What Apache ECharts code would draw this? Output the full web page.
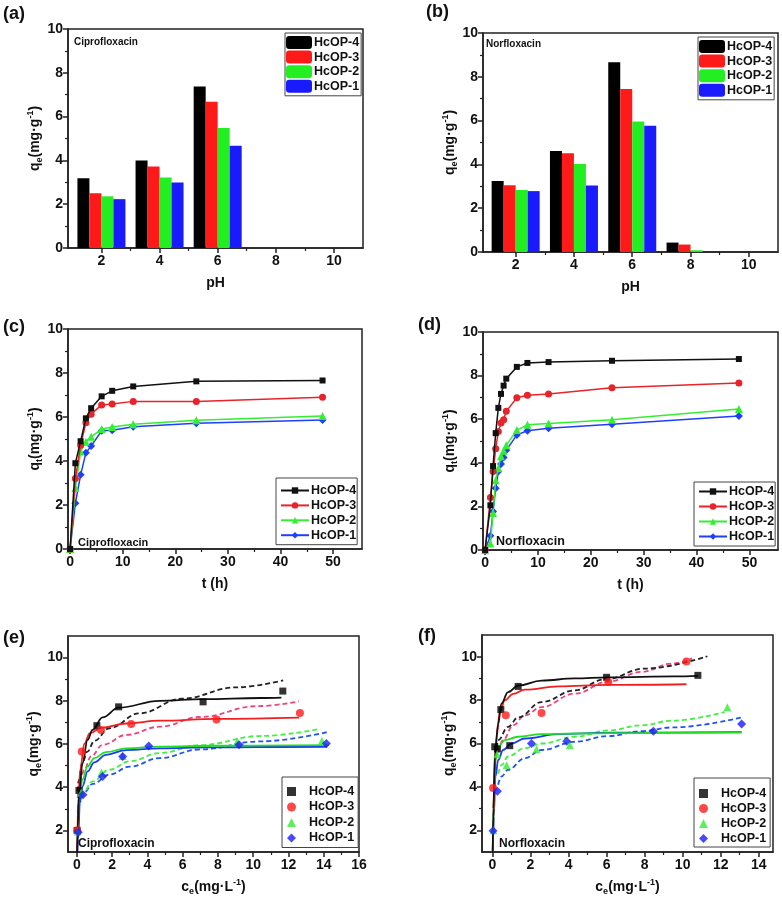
<!DOCTYPE html>
<html><head><meta charset="utf-8">
<script src="https://cdn.jsdelivr.net/npm/echarts@6/dist/echarts.min.js"></script>
<style>html,body{margin:0;padding:0;background:#fff}#c{width:782px;height:905px}</style>
</head><body><div id="c"></div>
<script>
// ---------- (a)/(b) effect of pH ----------
const pH = [2, 4, 6, 8, 10];
const cipPH4 = [3.18, 3.99, 7.37, 0, 0];
const cipPH3 = [2.50, 3.72, 6.68, 0, 0];
const cipPH2 = [2.36, 3.22, 5.48, 0, 0];
const cipPH1 = [2.23, 2.99, 4.67, 0, 0];
const norPH4 = [3.24, 4.61, 8.67, 0.43, 0];
const norPH3 = [3.05, 4.51, 7.44, 0.34, 0];
const norPH2 = [2.83, 4.02, 5.96, 0.08, 0];
const norPH1 = [2.78, 3.04, 5.76, 0, 0];

// ---------- (c)/(d) kinetics ----------
const cipTime = [0, 1, 2, 3, 4, 6, 8, 12, 24, 48];
const cipKin4 = [0, 3.90, 4.90, 5.94, 6.40, 6.94, 7.19, 7.39, 7.62, 7.66];
const cipKin3 = [0, 3.20, 4.72, 5.74, 6.13, 6.55, 6.59, 6.71, 6.71, 6.90];
const cipKin2 = [0, 2.77, 4.43, 4.88, 5.10, 5.45, 5.55, 5.67, 5.85, 6.04];
const cipKin1 = [0, 2.08, 3.37, 4.37, 4.68, 5.37, 5.40, 5.56, 5.72, 5.86];
const norTime = [0, 1, 1.5, 2, 2.5, 3, 3.5, 4, 6, 8, 12, 24, 48];
const norKin4 = [0, 2.05, 3.85, 5.36, 6.52, 7.16, 7.54, 7.86, 8.40, 8.58, 8.62, 8.68, 8.76];
const norKin3 = [0, 2.41, 3.60, 4.64, 5.44, 5.82, 5.98, 6.36, 6.98, 7.10, 7.16, 7.44, 7.66];
const norKin2 = [0, 0.30, 1.70, 3.20, 3.75, 4.30, 4.55, 4.80, 5.50, 5.74, 5.80, 5.98, 6.47];
const norKin1 = [0, 0.65, 1.77, 2.83, 3.60, 3.94, 4.24, 4.57, 5.28, 5.47, 5.59, 5.77, 6.15];

// ---------- (e)/(f) isotherms: measured points ----------
const cipCe4 = [0.02, 0.12, 1.14, 2.37, 7.16, 11.68];
const cipQe4 = [2.00, 3.85, 6.85, 7.72, 7.95, 8.45];
const cipCe3 = [0.02, 0.28, 1.37, 3.08, 7.92, 12.65];
const cipQe3 = [2.00, 5.65, 6.65, 6.93, 7.14, 7.43];
const cipCe2 = [0.05, 0.25, 1.40, 2.60, 9.10, 13.90];
const cipQe2 = [1.95, 3.75, 4.68, 5.45, 6.12, 6.15];
const cipCe1 = [0.08, 0.35, 1.46, 2.60, 4.08, 9.20, 14.15];
const cipQe1 = [1.92, 3.65, 4.50, 5.42, 5.91, 5.96, 6.02];
const norCe4 = [0.12, 0.26, 0.44, 0.91, 1.35, 6.00, 10.80];
const norQe4 = [5.85, 5.75, 7.56, 5.90, 8.63, 9.05, 9.14];
const norCe3 = [0.03, 0.70, 2.58, 6.09, 10.20];
const norQe3 = [3.95, 7.30, 7.41, 8.83, 9.78];
const norCe2 = [0.05, 0.25, 0.74, 2.32, 4.07, 12.35];
const norQe2 = [2.00, 5.50, 5.00, 5.73, 5.93, 7.67];
const norCe1 = [0.03, 0.26, 2.05, 3.90, 8.46, 13.10];
const norQe1 = [1.98, 3.80, 6.00, 6.10, 6.57, 6.90];

// ---------- (e)/(f) fitted curves: solid = Langmuir, dashed = Freundlich ----------
const cipLang4 = [[0,0],[0.05,2.2],[0.13,3.7],[0.32,5.1],[0.61,6.19],[0.89,6.65],[1.46,7.23],[2.37,7.68],[4.69,8.0],[7.16,8.08],[10.4,8.13],[11.6,8.15]];
const cipLang3 = [[0,0],[0.03,1.8],[0.08,3.27],[0.19,4.8],[0.42,6.0],[0.74,6.5],[1.37,6.75],[2.8,6.95],[4.69,7.08],[7.92,7.16],[12.6,7.22]];
const cipLang2 = [[0,0],[0.04,2.05],[0.13,3.5],[0.32,4.35],[0.61,4.96],[0.99,5.35],[1.65,5.62],[2.8,5.8],[4.69,5.88],[8,5.92],[14.3,5.95]];
const cipLang1 = [[0,0],[0.08,1.6],[0.17,3.27],[0.32,4.04],[0.61,4.73],[0.99,5.15],[1.65,5.5],[2.8,5.72],[4.69,5.8],[7.54,5.84],[10.4,5.86],[14.2,5.87]];
const cipFreu4 = [[0.05,3.8],[0.1,4.3],[0.32,5.15],[0.6,5.65],[1,6.15],[1.84,6.73],[3.55,7.42],[5.98,8.1],[9.0,8.62],[11.7,8.95]];
const cipFreu3 = [[0.05,3.5],[0.1,3.9],[0.2,4.35],[0.42,4.8],[0.8,5.42],[1.46,5.96],[2.8,6.42],[4.7,6.8],[7,7.25],[10.2,7.75],[12.6,7.97]];
const cipFreu2 = [[0.05,2.9],[0.1,3.2],[0.3,3.7],[0.9,4.27],[1.84,4.81],[3,5.2],[4.7,5.58],[7,5.95],[10.4,6.37],[13.8,6.7]];
const cipFreu1 = [[0.05,2.8],[0.15,3.3],[0.4,3.75],[0.9,4.15],[1.84,4.58],[3,4.95],[4.7,5.35],[7,5.75],[10.4,6.12],[14.2,6.55]];
const norLang4 = [[0,0],[0.05,3.0],[0.12,5.4],[0.3,6.9],[0.47,7.84],[0.82,8.37],[1.35,8.67],[2.58,8.9],[4.33,9.0],[6.09,9.05],[9.6,9.09],[10.8,9.12]];
const norLang3 = [[0,0],[0.05,2.6],[0.1,4.4],[0.21,6.3],[0.39,7.45],[0.65,7.99],[1.09,8.29],[1.7,8.48],[3.46,8.63],[6.09,8.7],[10.2,8.73]];
const norLang2 = [[0,0],[0.03,2.0],[0.07,3.6],[0.16,5.24],[0.3,5.85],[0.65,6.16],[1.35,6.31],[2.58,6.43],[4.33,6.46],[8,6.49],[13.1,6.5]];
const norLang1 = [[0,0],[0.04,1.6],[0.07,2.65],[0.16,4.48],[0.3,5.24],[0.56,5.7],[1.0,6.0],[1.7,6.23],[3.46,6.43],[6.09,6.5],[13.1,6.52]];
const norFreu4 = [[0.2,5.8],[0.3,6.16],[0.82,6.77],[1.35,7.2],[2.58,7.91],[4.33,8.45],[5.9,8.95],[8,9.45],[11.3,10.02]];
const norFreu3 = [[0.3,5.6],[0.56,6.16],[1.09,6.84],[1.7,7.3],[2.58,7.68],[4.33,8.3],[6.09,8.85],[7.84,9.3],[9.42,9.68],[10.5,9.92]];
const norFreu2 = [[0.3,4.6],[0.47,5.0],[0.82,5.4],[1.7,5.78],[2.58,6.0],[4.33,6.31],[6.09,6.6],[7.84,6.84],[9.42,7.05],[12.2,7.45]];
const norFreu1 = [[0.3,4.1],[0.47,4.48],[0.82,4.79],[1.7,5.32],[2.58,5.7],[4.33,6.08],[6.09,6.34],[7.84,6.57],[9.42,6.74],[13.1,7.2]];

// ---------- axis ticks ----------
const pHTicks = [2, 4, 6, 8, 10];
const pHMinor = [3, 5, 7, 9];
const qTicks = [0, 2, 4, 6, 8, 10];
const qMinor = [1, 3, 5, 7, 9];
const tTicks = [0, 10, 20, 30, 40, 50];
const tMinor = [5, 15, 25, 35, 45];
const qeTicks = [2, 4, 6, 8, 10];
const qeMinor = [3, 5, 7, 9];
const ceTicksCip = [0, 2, 4, 6, 8, 10, 12, 14, 16];
const ceMinorCip = [1, 3, 5, 7, 9, 11, 13, 15];
const ceTicksNor = [0, 2, 4, 6, 8, 10, 12, 14];
const ceMinorNor = [1, 3, 5, 7, 9, 11, 13];

const FONT = '"Liberation Sans", Arial, Helvetica, sans-serif';
const K = '#000000', R = '#ff1a1a', G = '#22ee22', B = '#1a1aff';
const AX = '#222';
const names = ['HcOP-4', 'HcOP-3', 'HcOP-2', 'HcOP-1'];

const rich = {
  m: {fontSize: 14, fontWeight: 'bold', fontFamily: FONT, color: '#111', lineHeight: 18},
  b: {fontSize: 9, fontWeight: 'bold', fontFamily: FONT, color: '#111', lineHeight: 9, verticalAlign: 'bottom'},
  t: {fontSize: 9, fontWeight: 'bold', fontFamily: FONT, color: '#111', lineHeight: 9, verticalAlign: 'top'}
};
const plainName = {color: '#111', fontSize: 14, fontWeight: 'bold', fontFamily: FONT};

function mkAxes(dim, grid, min, max, majors, minors, name, gap, isRich) {
  const base = {type: 'value', gridIndex: grid, min: min, max: max,
    position: dim === 'x' ? 'bottom' : 'left', splitLine: {show: false}};
  const main = Object.assign({}, base, {
    axisLine: {show: true, onZero: false, lineStyle: {color: AX, width: 1.5}},
    axisTick: {show: true, length: 5, customValues: majors, lineStyle: {color: AX, width: 1.5}},
    axisLabel: {customValues: majors, color: '#111', fontSize: 14, fontWeight: 'bold', fontFamily: FONT,
      margin: dim === 'x' ? 6 : 5},
    name: name, nameLocation: 'middle', nameGap: gap, nameMoveOverlap: false,
    nameRotate: dim === 'x' ? 0 : 90,
    nameTextStyle: isRich ? {rich: rich} : plainName
  });
  const minor = Object.assign({}, base, {
    axisLine: {show: false, onZero: false},
    axisTick: {show: true, length: 3, customValues: minors, lineStyle: {color: AX, width: 1.2}},
    axisLabel: {show: false}
  });
  return [main, minor];
}

const qeName = '{m|q}{b|e}{m|(mg·g}{t|-1}{m|)}';
const qtName = '{m|q}{b|t}{m|(mg·g}{t|-1}{m|)}';
const ceName = '{m|c}{b|e}{m|(mg·L}{t|-1}{m|)}';

const grids = [
  {left: 68, top: 29, width: 295, height: 219},
  {left: 483, top: 33, width: 295, height: 219},
  {left: 68, top: 329, width: 294, height: 220},
  {left: 483, top: 332, width: 295, height: 218},
  {left: 68, top: 636, width: 291, height: 216},
  {left: 482, top: 635, width: 291, height: 217}
].map(g => Object.assign(g, {show: true, borderColor: AX, borderWidth: 1.5, outerBoundsMode: 'none', containLabel: false}));

const xAxis = [].concat(
  mkAxes('x', 0, 0.85, 11, pHTicks, pHMinor, 'pH', 28, false),
  mkAxes('x', 1, 0.88, 11, pHTicks, pHMinor, 'pH', 28, false),
  mkAxes('x', 2, -0.4, 55.5, tTicks, tMinor, 't (h)', 28, false),
  mkAxes('x', 3, -0.4, 55.4, tTicks, tMinor, 't (h)', 28, false),
  mkAxes('x', 4, -0.5, 16, ceTicksCip, ceMinorCip, ceName, 26, true),
  mkAxes('x', 5, -0.55, 14.75, ceTicksNor, ceMinorNor, ceName, 26, true)
);
const yAxis = [].concat(
  mkAxes('y', 0, 0, 10, qTicks, qMinor, qeName, 24, true),
  mkAxes('y', 1, 0, 10, qTicks, qMinor, qeName, 24, true),
  mkAxes('y', 2, 0, 10, qTicks, qMinor, qtName, 24, true),
  mkAxes('y', 3, 0, 10, qTicks, qMinor, qtName, 24, true),
  mkAxes('y', 4, 1, 11, qeTicks, qeMinor, qeName, 25, true),
  mkAxes('y', 5, 1, 11, qeTicks, qeMinor, qeName, 24, true)
);

const series = [];
const colors = [K, R, G, B];
// bars
[[cipPH4, cipPH3, cipPH2, cipPH1], [norPH4, norPH3, norPH2, norPH1]].forEach((set, p) => {
  set.forEach((vals, i) => {
    series.push({type: 'bar', name: 'p' + p + '_' + i, xAxisIndex: 2 * p, yAxisIndex: 2 * p,
      data: pH.map((x, j) => [x, vals[j]]), barWidth: 12, barGap: '0%',
      itemStyle: {color: colors[i]}});
  });
});
// kinetics
const kinSym = ['rect', 'circle', 'triangle', 'diamond'];
const kinSize = [6, 7, 8, 8];
const kinLine = ['#111', '#e8232a', '#33ee33', '#1f3fff'];
[[cipTime, [cipKin4, cipKin3, cipKin2, cipKin1]], [norTime, [norKin4, norKin3, norKin2, norKin1]]].forEach((pair, p) => {
  const g = 2 + p;
  pair[1].forEach((vals, i) => {
    series.push({type: 'line', name: 'k' + p + '_' + i, xAxisIndex: 2 * g, yAxisIndex: 2 * g,
      data: pair[0].map((t, j) => [t, vals[j]]), symbol: kinSym[i], symbolSize: kinSize[i],
      lineStyle: {width: 1.5, color: kinLine[i]}, itemStyle: {color: kinLine[i]}, z: 5 - i});
  });
});
// isotherms
const fitSolid = ['#111', '#ee2020', '#22dd22', '#1a3cff'];
const fitDash = ['#222', '#e8467c', '#44ee44', '#2255ee'];
const isoSym = ['rect', 'circle', 'triangle', 'diamond'];
const isoSize = [7, 8, 8, 9];
const isoSets = [
  {pts: [[cipCe4, cipQe4], [cipCe3, cipQe3], [cipCe2, cipQe2], [cipCe1, cipQe1]],
   lang: [cipLang4, cipLang3, cipLang2, cipLang1], freu: [cipFreu4, cipFreu3, cipFreu2, cipFreu1]},
  {pts: [[norCe4, norQe4], [norCe3, norQe3], [norCe2, norQe2], [norCe1, norQe1]],
   lang: [norLang4, norLang3, norLang2, norLang1], freu: [norFreu4, norFreu3, norFreu2, norFreu1]}
];
isoSets.forEach((set, p) => {
  const g = 4 + p;
  for (let i = 3; i >= 0; i--) {
    series.push({type: 'line', name: 'L' + p + '_' + i, xAxisIndex: 2 * g, yAxisIndex: 2 * g,
      data: set.freu[i], showSymbol: false, smooth: 0.4, smoothMonotone: 'x', clip: true,
      lineStyle: {width: 1.8, type: [5, 3], color: fitDash[i]}, z: 2});
    series.push({type: 'line', name: 'F' + p + '_' + i, xAxisIndex: 2 * g, yAxisIndex: 2 * g,
      data: set.lang[i], showSymbol: false, smooth: 0.4, smoothMonotone: 'x', clip: true,
      lineStyle: {width: 1.8, color: fitSolid[i]}, z: 3});
  }
  set.pts.forEach((xy, i) => {
    series.push({type: 'scatter', name: 's' + p + '_' + i, xAxisIndex: 2 * g, yAxisIndex: 2 * g,
      data: xy[0].map((c, j) => [c, xy[1][j]]), symbol: isoSym[i], symbolSize: isoSize[i],
      itemStyle: {color: colors[i] === G ? '#33ee33' : colors[i]}, z: 6});
  });
});

const legText = {color: '#111', fontSize: 12.5, fontWeight: 'bold', fontFamily: FONT, lineHeight: 13};
function mkLegend(prefix, left, top, opts) {
  return Object.assign({
    orient: 'vertical', left: left, top: top, selectedMode: false,
    data: [0, 1, 2, 3].map(i => prefix + i),
    formatter: n => names[+n.slice(-1)],
    backgroundColor: '#fff', borderColor: '#444', borderWidth: 1, borderRadius: 0,
    textStyle: Object.assign({}, legText)
  }, opts);
}
const legend = [
  mkLegend('p0_', 285, 33, {itemWidth: 26, itemHeight: 13, itemGap: 1.6, padding: [3, 2, 3, 1], textStyle: Object.assign({}, legText, {padding: [0, 0, 0, -3]})}),
  mkLegend('p1_', 698, 37, {itemWidth: 26, itemHeight: 13, itemGap: 1.6, padding: [3, 2, 3, 1], textStyle: Object.assign({}, legText, {padding: [0, 0, 0, -3]})}),
  mkLegend('k0_', 276, 478, {itemWidth: 28, itemHeight: 8, itemGap: 1.9, padding: [6, 1, 3, 4], textStyle: Object.assign({}, legText, {padding: [0, 0, 0, -3]})}),
  mkLegend('k1_', 694, 482, {itemWidth: 28, itemHeight: 8, itemGap: 2, padding: [3, 1, 3, 4], textStyle: Object.assign({}, legText, {padding: [0, 0, 0, -3]})}),
  mkLegend('s0_', 282, 777, {itemWidth: 9, itemHeight: 9, itemGap: 2.5, padding: [8, 4, 3, 5], textStyle: Object.assign({}, legText, {padding: [0, 0, 0, 8]})}),
  mkLegend('s1_', 694, 778, {itemWidth: 9, itemHeight: 9, itemGap: 2, padding: [9, 4, 2, 5], textStyle: Object.assign({}, legText, {padding: [0, 0, 0, 8]})})
];

function txt(x, y, text, size) {
  return {type: 'text', x: x, y: y, z: 100, style: {text: text, font: 'bold ' + size + 'px ' + FONT, fill: '#111', align: 'left', verticalAlign: 'middle'}};
}
const graphic = [
  txt(3, 14, '(a)', 18), txt(426, 12.5, '(b)', 18), txt(3, 327.5, '(c)', 18),
  txt(418, 325, '(d)', 18), txt(3, 638, '(e)', 18), txt(418, 636, '(f)', 18),
  txt(74, 42, 'Ciprofloxacin', 10), txt(486, 44.3, 'Norfloxacin', 10),
  txt(78, 542.7, 'Ciprofloxacin', 11), txt(496, 541.7, 'Norfloxacin', 12.5),
  txt(78, 843.3, 'Ciprofloxacin', 12), txt(499, 843.3, 'Norfloxacin', 12)
];

const chart = echarts.init(document.getElementById('c'), null, {renderer: 'canvas'});
chart.setOption({
  animation: false,
  backgroundColor: '#fff',
  grid: grids, xAxis: xAxis, yAxis: yAxis, series: series, legend: legend, graphic: graphic
});
</script>
</body></html>
